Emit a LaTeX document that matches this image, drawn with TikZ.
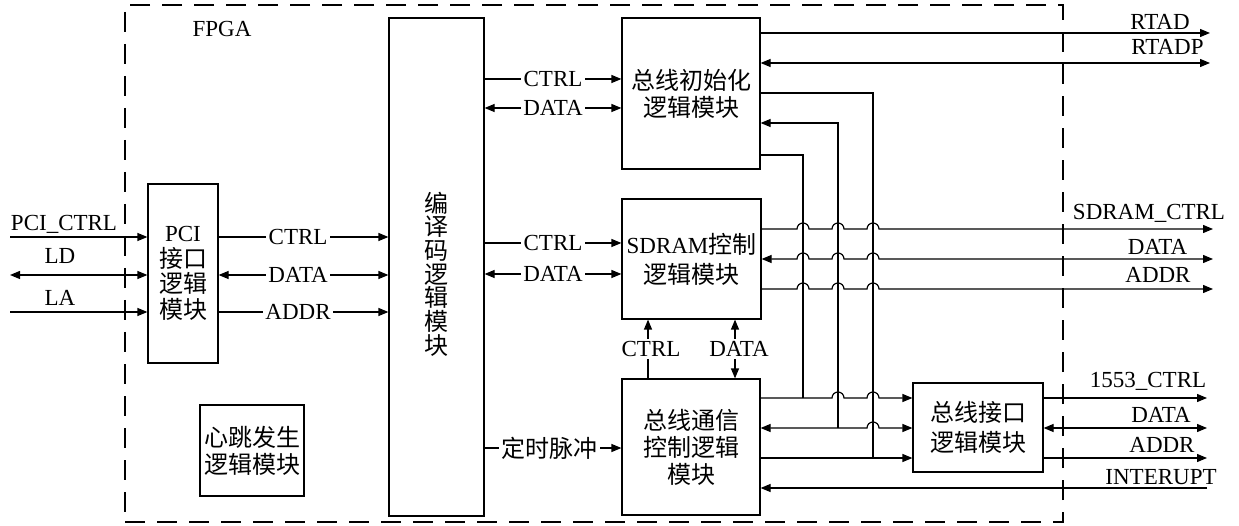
\documentclass[tikz,border=0pt]{standalone}
\usepackage{fontspec}
\setmainfont{Liberation Serif}
\newfontfamily\cjk{Noto Sans CJK SC}
\usetikzlibrary{arrows.meta}
\tikzset{
  box/.style={draw, line width=1.2pt, inner sep=0pt, align=center},
  ln/.style={line width=1.2pt},
  arr/.style={ln, -{Triangle[length=10pt,width=8pt]}},
  darr/.style={ln, {Triangle[length=10pt,width=8pt]}-{Triangle[length=10pt,width=8pt]}},
  lab/.style={fill=white, inner sep=2.5pt},
  outlab/.style={anchor=base, inner sep=0pt},
  cjkfont/.style={font=\cjk\fontsize{24}{#1}\selectfont},
}
\begin{document}
\begin{tikzpicture}[x=1pt, y=-1pt, font=\fontsize{23}{27}\selectfont]
\useasboundingbox (0,0) rectangle (1239,526);

% FPGA frame
\node[draw, line width=1.2pt, dash pattern=on 20pt off 12pt, minimum width=938pt, minimum height=517pt, inner sep=0pt] (fpga) at (594,263.5) {};
\node[inner sep=0pt] (fpgalabel) at (222,29) {FPGA};

% blocks
\node[box, minimum width=70pt, minimum height=179pt, font=\fontsize{23}{25.5}\selectfont] (pci) at (183,273.5) {PCI\\{\cjk\fontsize{24}{25.5}\selectfont 接口}\\{\cjk\fontsize{24}{25.5}\selectfont 逻辑}\\{\cjk\fontsize{24}{25.5}\selectfont 模块}};
\node[box, minimum width=95pt, minimum height=498pt] (codec) at (436.5,267) {};
\node[inner sep=0pt, align=center, cjkfont=23.7] (codectext) at ([yshift=-7pt]codec.center) {编\\译\\码\\逻\\辑\\模\\块};
\node[box, minimum width=138pt, minimum height=151pt, cjkfont=27] (init) at (691,93.5) {总线初始化\\逻辑模块};
\node[box, minimum width=139pt, minimum height=120pt, font=\fontsize{23}{30}\selectfont] (sdram) at (691.5,259) {SDRAM{\cjk\fontsize{24}{30}\selectfont 控制}\\{\cjk\fontsize{24}{30}\selectfont 逻辑模块}};
\node[box, minimum width=138pt, minimum height=136pt, cjkfont=27] (comm) at (691,447) {总线通信\\控制逻辑\\模块};
\node[box, minimum width=130pt, minimum height=89pt, cjkfont=30] (bif) at (978,427.5) {总线接口\\逻辑模块};
\node[box, minimum width=104pt, minimum height=91pt, cjkfont=27] (heart) at (252,450.5) {心跳发生\\逻辑模块};

% coordinates
\coordinate (pcictrlin) at (10,237);
\coordinate (ldin) at (10,275);
\coordinate (lain) at (10,312);
\coordinate (rowic) at (0,79);
\coordinate (rowid) at (0,108);
\coordinate (rowsc) at (0,243);
\coordinate (rowsd) at (0,274);
\coordinate (rowt) at (0,448);
\coordinate (rtad) at (1210,33);
\coordinate (rtadp) at (1210,63);
\coordinate (sdc) at (1213,229);
\coordinate (sdd) at (1213,259);
\coordinate (sda) at (1213,289);
\coordinate (c1553) at (1207,398);
\coordinate (d1553) at (1207,428);
\coordinate (a1553) at (1207,458);
\coordinate (intr) at (1207,488);
\coordinate (j1) at (803,398);
\coordinate (j2) at (838,428);
\coordinate (j3) at (873,458);
\coordinate (rowi1) at (0,93);
\coordinate (rowi2) at (0,123);
\coordinate (rowi3) at (0,155);
\coordinate (colc) at (648,0);
\coordinate (cold) at (735,0);

% left inputs
\draw[arr] (pcictrlin) node[outlab, xshift=54pt, yshift=6pt] {PCI\_CTRL} -- (pci.west |- pcictrlin);
\draw[darr] (ldin) node[outlab, xshift=50pt, yshift=11pt] {LD} -- (pci.west |- ldin);
\draw[arr] (lain) node[outlab, xshift=50pt, yshift=6pt] {LA} -- (pci.west |- lain);

% PCI -> codec
\draw[arr] (pci.east |- pcictrlin) -- node[lab, pos=0.468] {CTRL} (codec.west |- pcictrlin);
\draw[darr] (pci.east |- ldin) -- node[lab, pos=0.468] {DATA} (codec.west |- ldin);
\draw[arr] (pci.east |- lain) -- node[lab, pos=0.468] {ADDR} (codec.west |- lain);

% codec -> init / sdram / comm
\draw[arr] (codec.east |- rowic) -- node[lab] {CTRL} (init.west |- rowic);
\draw[darr] (codec.east |- rowid) -- node[lab] {DATA} (init.west |- rowid);
\draw[arr] (codec.east |- rowsc) -- node[lab] {CTRL} (sdram.west |- rowsc);
\draw[darr] (codec.east |- rowsd) -- node[lab] {DATA} (sdram.west |- rowsd);
\draw[arr] (codec.east |- rowt) -- node[lab, pos=0.475, cjkfont=27] {定时脉冲} (comm.west |- rowt);

% init outputs
\draw[arr] (init.east |- rtad) -- (rtad) node[outlab, xshift=-50pt, yshift=3pt] {RTAD};
\draw[darr] (init.east |- rtadp) -- (rtadp) node[outlab, xshift=-42.5pt, yshift=8pt] {RTADP};

% verticals from init to bus lines
\draw[ln] (init.east |- rowi3) -| (j1);
\draw[arr] (j2) |- (init.east |- rowi2);
\draw[ln] (init.east |- rowi1) -| (j3);

% sdram outputs with hops
\draw[arr] (sdram.east |- sdc) -- (797,229) arc[start angle=180, end angle=360, radius=6]
  -- (832,229) arc[start angle=180, end angle=360, radius=6]
  -- (867,229) arc[start angle=180, end angle=360, radius=6]
  -- (sdc) node[outlab, xshift=-64pt, yshift=9pt] {SDRAM\_CTRL};
\draw[darr] (sdram.east |- sdd) -- (797,259) arc[start angle=180, end angle=360, radius=6]
  -- (832,259) arc[start angle=180, end angle=360, radius=6]
  -- (867,259) arc[start angle=180, end angle=360, radius=6]
  -- (sdd) node[outlab, xshift=-55.5pt, yshift=4pt] {DATA};
\draw[arr] (sdram.east |- sda) -- (797,289) arc[start angle=180, end angle=360, radius=6]
  -- (832,289) arc[start angle=180, end angle=360, radius=6]
  -- (867,289) arc[start angle=180, end angle=360, radius=6]
  -- (sda) node[outlab, xshift=-55pt, yshift=6pt] {ADDR};

% comm <-> sdram
\draw[arr] (comm.north -| colc) -- (sdram.south -| colc) node[lab, midway, xshift=3pt] {CTRL};
\draw[darr] (comm.north -| cold) -- (sdram.south -| cold) node[lab, midway, xshift=4pt] {DATA};

% comm -> bif
\draw[arr] (comm.east |- j1) -- (j1) -- (832,398) arc[start angle=180, end angle=360, radius=6]
  -- (867,398) arc[start angle=180, end angle=360, radius=6] -- (bif.west |- j1);
\draw[darr] (comm.east |- j2) -- (j2) -- (867,428) arc[start angle=180, end angle=360, radius=6] -- (bif.west |- j2);
\draw[arr] (comm.east |- j3) -- (bif.west |- j3);

% bif outputs
\draw[arr] (bif.east |- c1553) -- (c1553) node[outlab, xshift=-59pt, yshift=10pt] {1553\_CTRL};
\draw[darr] (bif.east |- d1553) -- (d1553) node[outlab, xshift=-46pt, yshift=6pt] {DATA};
\draw[arr] (bif.east |- a1553) -- (a1553) node[outlab, xshift=-45pt, yshift=6pt] {ADDR};
\draw[arr] (intr) node[outlab, xshift=-46pt, yshift=4pt] {INTERUPT} -- (comm.east |- intr);
\end{tikzpicture}
\end{document}
